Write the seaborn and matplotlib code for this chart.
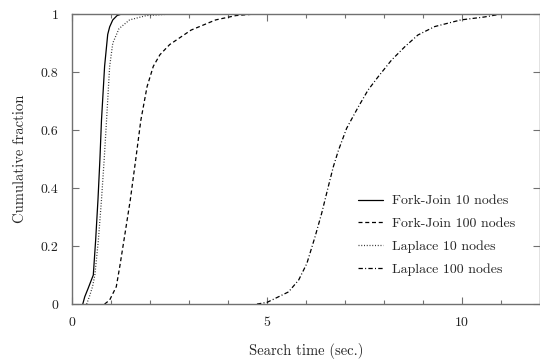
import numpy as np
import pandas as pd
import seaborn as sb
import matplotlib
matplotlib.use("Agg")
import matplotlib.pyplot as plt
from matplotlib.ticker import MultipleLocator

# curve points (search time in sec., cumulative fraction)
fj10_x = [0.27, 0.32, 0.41, 0.49, 0.54, 0.60, 0.66, 0.71, 0.75, 0.83, 0.91, 0.96, 1.04, 1.15, 1.26]
fj10_y = [0.0, 0.025, 0.055, 0.083, 0.10, 0.22, 0.36, 0.50, 0.634, 0.82, 0.93, 0.956, 0.98, 0.995, 1.0]

fj100_x = [0.83, 0.96, 1.13, 1.22, 1.35, 1.49, 1.63, 1.76, 1.92, 2.08, 2.25, 2.5, 3.05, 3.68, 4.2, 4.66]
fj100_y = [0.0, 0.014, 0.06, 0.13, 0.24, 0.36, 0.50, 0.634, 0.75, 0.82, 0.86, 0.895, 0.945, 0.98, 0.995, 1.0]

lp10_x = [0.37, 0.45, 0.52, 0.58, 0.67, 0.75, 0.82, 0.88, 0.96, 1.04, 1.2, 1.47, 1.9, 2.5]
lp10_y = [0.0, 0.03, 0.06, 0.10, 0.22, 0.36, 0.50, 0.634, 0.82, 0.90, 0.95, 0.98, 0.995, 1.0]

lp100_x = [4.74, 5.0, 5.55, 5.81, 6.02, 6.23, 6.4, 6.57, 6.70, 6.83, 7.04, 7.34, 7.59,
           7.85, 8.19, 8.53, 8.87, 9.30, 9.97, 10.57, 11.0, 11.6]
lp100_y = [0.0, 0.006, 0.042, 0.083, 0.14, 0.232, 0.313, 0.405, 0.474, 0.53, 0.606, 0.68, 0.738,
           0.784, 0.841, 0.887, 0.928, 0.957, 0.98, 0.99, 1.0, 1.0]

labels = ["Fork-Join 10 nodes", "Fork-Join 100 nodes", "Laplace 10 nodes", "Laplace 100 nodes"]

sb.set_style("ticks")
plt.rcParams["font.family"] = "serif"
plt.rcParams["font.serif"] = ["cmr10", "DejaVu Serif"]
plt.rcParams["axes.formatter.use_mathtext"] = True
plt.rcParams["font.size"] = 10

fig = plt.figure(figsize=(5.4, 3.62), dpi=100)
ax = fig.add_axes([0.1338, 0.160, 0.866, 0.801])

series = [
    (fj10_x, fj10_y, "-", "black"),
    (fj100_x, fj100_y, (0, (3.2, 2.2)), "black"),
    (lp10_x, lp10_y, (0, (0.8, 1.4)), "#333333"),
    (lp100_x, lp100_y, (0, (3.5, 1.8, 0.8, 1.8)), "black"),
]
for (xs, ys, ls, col), lab in zip(series, labels):
    oData = pd.DataFrame({"x": xs, "y": ys})
    sb.lineplot(data=oData, x="x", y="y", ax=ax, color=col, linestyle=ls,
                linewidth=0.9, label=lab, estimator=None, sort=False)

ax.set_xlim(0, 12)
ax.set_ylim(0, 1)
ax.xaxis.set_minor_locator(MultipleLocator(1))
ax.set_xticks([0, 5, 10])
ax.set_xticklabels(["0", "5", "10"])
ax.set_yticks([0, 0.2, 0.4, 0.6, 0.8, 1.0])
ax.set_yticklabels(["0", "0.2", "0.4", "0.6", "0.8", "1"])

ax.tick_params(which="both", direction="in", top=True, right=True, colors="#707070",
               labelcolor="#222222")
ax.tick_params(which="major", length=5, width=0.8)
ax.tick_params(which="minor", length=3, width=0.8)
ax.tick_params(axis="x", pad=9)
ax.tick_params(axis="y", pad=10)
for s in ax.spines.values():
    s.set_color("#707070")
    s.set_linewidth(1.0)

ax.set_xlabel("Search time (sec.)", labelpad=10, fontsize=10.5)
ax.set_ylabel("Cumulative fraction", labelpad=10, fontsize=10.5)

leg = ax.legend(loc="lower right", bbox_to_anchor=(0.975, 0.055), frameon=False,
                handlelength=1.8, handletextpad=0.7, labelspacing=0.72)

fig.savefig("out.png", dpi=100)
